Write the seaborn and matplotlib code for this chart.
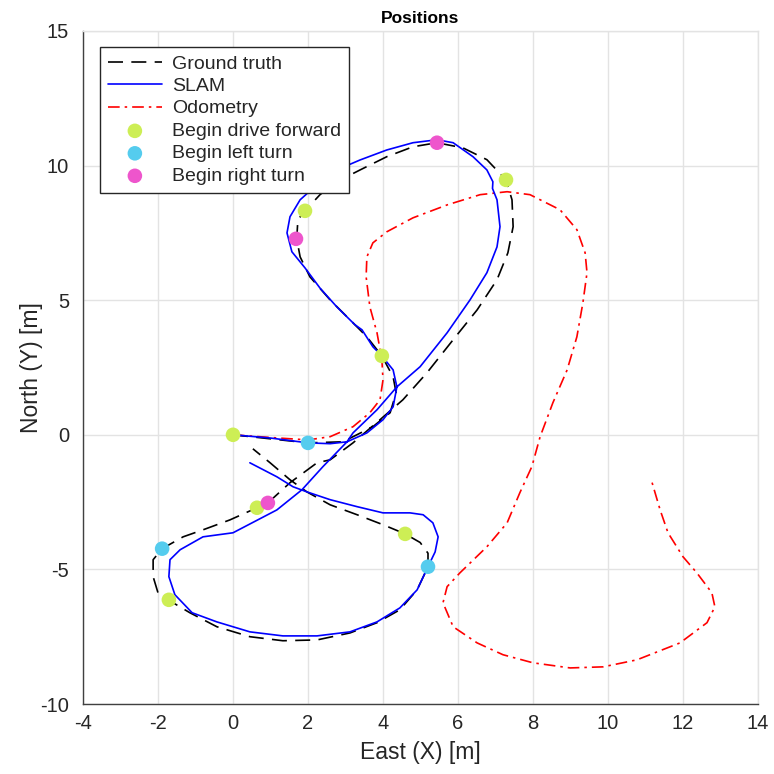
import numpy as np
import pandas as pd
import matplotlib
matplotlib.use("Agg")
import matplotlib.pyplot as plt
import seaborn as sns

# ---- data ----
gt_x = [0.0, 1.0, 2.0, 2.93, 3.73, 4.19, 4.35, 4.27, 3.97, 3.57, 3.2, 2.59, 2.05, 1.79, 1.7,
        1.73, 1.92, 2.32, 2.77, 3.39, 4.1, 4.8, 5.44, 6.13, 6.77, 7.28, 7.44, 7.47, 7.33,
        7.04, 6.51, 5.87, 5.17, 4.53, 3.92, 3.2, 2.59, 2.24, 1.52, 0.93, 0.64, -0.08, -0.8,
        -1.33, -1.89, -2.13, -2.13, -2.0, -1.73, -1.15, -0.43, 0.45, 1.33, 2.24, 3.12, 3.84,
        4.45, 4.91, 5.2, 5.2, 4.99, 4.59, 4.0, 3.31, 2.59, 1.97, 1.52, 0.99, 0.53]
gt_y = [0.0, -0.15, -0.3, -0.26, 0.3, 0.82, 1.56, 2.15, 2.93, 3.64, 4.16, 5.01, 5.87, 6.61, 7.28,
        7.99, 8.32, 8.92, 9.4, 9.84, 10.33, 10.7, 10.85, 10.66, 10.22, 9.47, 8.73, 7.73, 6.76,
        5.76, 4.64, 3.53, 2.3, 1.3, 0.56, -0.3, -0.93, -1.04, -1.78, -2.53, -2.71, -3.16, -3.53,
        -3.79, -4.23, -4.64, -5.27, -5.87, -6.13, -6.61, -7.13, -7.5, -7.65, -7.62, -7.36, -6.98,
        -6.5, -5.76, -4.9, -4.4, -4.0, -3.68, -3.34, -2.97, -2.6, -2.12, -1.67, -1.04, -0.52]

slam_x = [0.0, 1.0, 2.0, 2.59, 3.04, 3.57, 4.0, 4.27, 4.37, 4.27, 3.97, 3.73, 3.44, 3.25, 2.77,
          2.32, 1.92, 1.57, 1.44, 1.52, 1.79, 2.24, 2.77, 3.39, 4.1, 4.8, 5.44, 5.87, 6.4, 6.77,
          6.93, 6.92, 7.04, 7.12, 7.04, 6.77, 6.32, 5.71, 4.99, 4.37, 3.84, 3.2, 3.04, 2.4, 1.84,
          1.17, 0.0, -0.8, -1.41, -1.68, -1.71, -1.55, -1.09, -0.43, 0.45, 1.33, 2.24, 3.12,
          3.84, 4.45, 4.91, 5.2, 5.39, 5.47, 5.33, 5.07, 4.72, 4.0, 3.31, 2.59, 1.97, 1.6, 1.17,
          0.45]
slam_y = [0.0, -0.12, -0.3, -0.33, -0.26, 0.07, 0.56, 1.04, 1.78, 2.41, 2.93, 3.27, 3.9, 4.09,
          4.75, 5.45, 6.2, 6.8, 7.5, 8.1, 8.73, 9.29, 9.84, 10.21, 10.58, 10.85, 10.96, 10.85,
          10.33, 9.84, 9.4, 9.15, 8.73, 7.73, 6.98, 6.02, 5.01, 3.79, 2.53, 1.78, 0.93, 0.07,
          -0.26, -1.18, -2.04, -2.79, -3.64, -3.79, -4.27, -4.64, -5.27, -5.94, -6.61, -6.95,
          -7.32, -7.47, -7.47, -7.32, -6.95, -6.43, -5.76, -4.9, -4.35, -3.79, -3.27, -2.97,
          -2.9, -2.9, -2.67, -2.41, -2.12, -1.93, -1.56, -1.04]

odo_x = [0.0, 1.0, 2.0, 2.59, 3.2, 3.65, 3.92, 4.0, 3.97, 3.84, 3.65, 3.55, 3.57, 3.73, 4.1,
         4.8, 5.71, 6.59, 7.31, 7.92, 8.72, 9.17, 9.39, 9.44, 9.33, 9.17, 8.91, 8.53, 8.19,
         7.97, 7.65, 7.31, 6.77, 6.05, 5.71, 5.6, 5.87, 6.51, 7.2, 8.0, 8.99, 9.87, 10.77,
         11.92, 12.64, 12.85, 12.77, 12.37, 12.0, 11.6, 11.39, 11.17]
odo_y = [0.0, -0.1, -0.19, -0.07, 0.3, 0.82, 1.3, 2.04, 2.79, 3.79, 4.75, 5.87, 6.61, 7.13,
         7.54, 8.06, 8.54, 8.92, 9.03, 8.92, 8.36, 7.62, 6.76, 6.02, 4.9, 3.64, 2.41, 1.19,
         -0.07, -1.18, -2.15, -3.27, -4.16, -5.13, -5.64, -6.24, -7.13, -7.73, -8.17, -8.47,
         -8.66, -8.62, -8.36, -7.73, -6.98, -6.39, -5.87, -5.13, -4.53, -3.64, -2.79, -1.75]

fwd_x = [0.0, 1.92, 3.97, 7.28, 4.59, 0.64, -1.71]
fwd_y = [0.0, 8.32, 2.93, 9.47, -3.68, -2.71, -6.13]
left_x = [2.0, -1.89, 5.2]
left_y = [-0.3, -4.23, -4.9]
right_x = [5.44, 1.68, 0.93]
right_y = [10.85, 7.28, -2.53]

x_ticks = [-4, -2, 0, 2, 4, 6, 8, 10, 12, 14]
y_ticks = [-10, -5, 0, 5, 10, 15]

# ---- styling ----
sns.set_theme(style="white")
plt.rcParams['font.family'] = ['Liberation Sans', 'DejaVu Sans']
plt.rcParams['axes.unicode_minus'] = False
plt.rcParams['xtick.direction'] = 'in'
plt.rcParams['ytick.direction'] = 'in'

fig = plt.figure(figsize=(7.74, 7.74), dpi=100)
ax = fig.add_axes([83 / 774, 70 / 774, 675 / 774, 673 / 774])

gt = pd.DataFrame({'x': gt_x, 'y': gt_y})
sl = pd.DataFrame({'x': slam_x, 'y': slam_y})
od = pd.DataFrame({'x': odo_x, 'y': odo_y})

sns.lineplot(data=gt, x='x', y='y', sort=False, estimator=None, ax=ax, color='black',
             lw=1.2, dashes=False, label='Ground truth', zorder=3)
ax.lines[-1].set_dashes([9, 5])
sns.lineplot(data=sl, x='x', y='y', sort=False, estimator=None, ax=ax, color='#0000ff',
             lw=1.2, label='SLAM', zorder=4)
sns.lineplot(data=od, x='x', y='y', sort=False, estimator=None, ax=ax, color='#ff0000',
             lw=1.2, label='Odometry', zorder=2)
ax.lines[-1].set_dashes([7, 3, 1.5, 3])

mk = dict(s=110, edgecolor='none', zorder=5, ax=ax)
sns.scatterplot(x=fwd_x, y=fwd_y, color='#cdee55', label='Begin drive forward', **mk)
sns.scatterplot(x=left_x, y=left_y, color='#55ccee', label='Begin left turn', **mk)
sns.scatterplot(x=right_x, y=right_y, color='#ee55cc', label='Begin right turn', **mk)

ax.set_xlim(-4, 14)
ax.set_ylim(-10, 15)
ax.set_xticks(x_ticks)
ax.set_yticks(y_ticks)
ax.grid(True, color='#e3e3e3', lw=1.0)
ax.set_axisbelow(True)
for s in ['left', 'bottom']:
    ax.spines[s].set_color('#404040')
    ax.spines[s].set_linewidth(1.0)
for s in ['top', 'right']:
    ax.spines[s].set_color('#e3e3e3')
    ax.spines[s].set_linewidth(1.0)
ax.tick_params(axis='both', labelsize=14.5, colors='#262626', length=5, width=0.8,
               top=False, right=False)
ax.tick_params(axis='y', pad=10)
ax.tick_params(axis='x', pad=7)
for t in ax.get_xticklabels() + ax.get_yticklabels():
    t.set_color('#262626')

ax.set_xlabel('East (X) [m]', fontsize=16.5, color='#262626', labelpad=6)
ax.set_ylabel('North (Y) [m]', fontsize=16.5, color='#262626', labelpad=-2)
ax.set_title('Positions', fontsize=12.5, fontweight='bold', color='black', pad=6)

leg = ax.legend(loc='upper left', bbox_to_anchor=(0.025, 0.976), borderaxespad=0,
                fontsize=14, frameon=True, fancybox=False, edgecolor='#262626',
                framealpha=1.0, handlelength=2.8, handletextpad=0.5,
                labelspacing=0.25, borderpad=0.4)
leg.get_frame().set_linewidth(1.0)
for t in leg.get_texts():
    t.set_color('#262626')

fig.savefig('out.png', dpi=100)
